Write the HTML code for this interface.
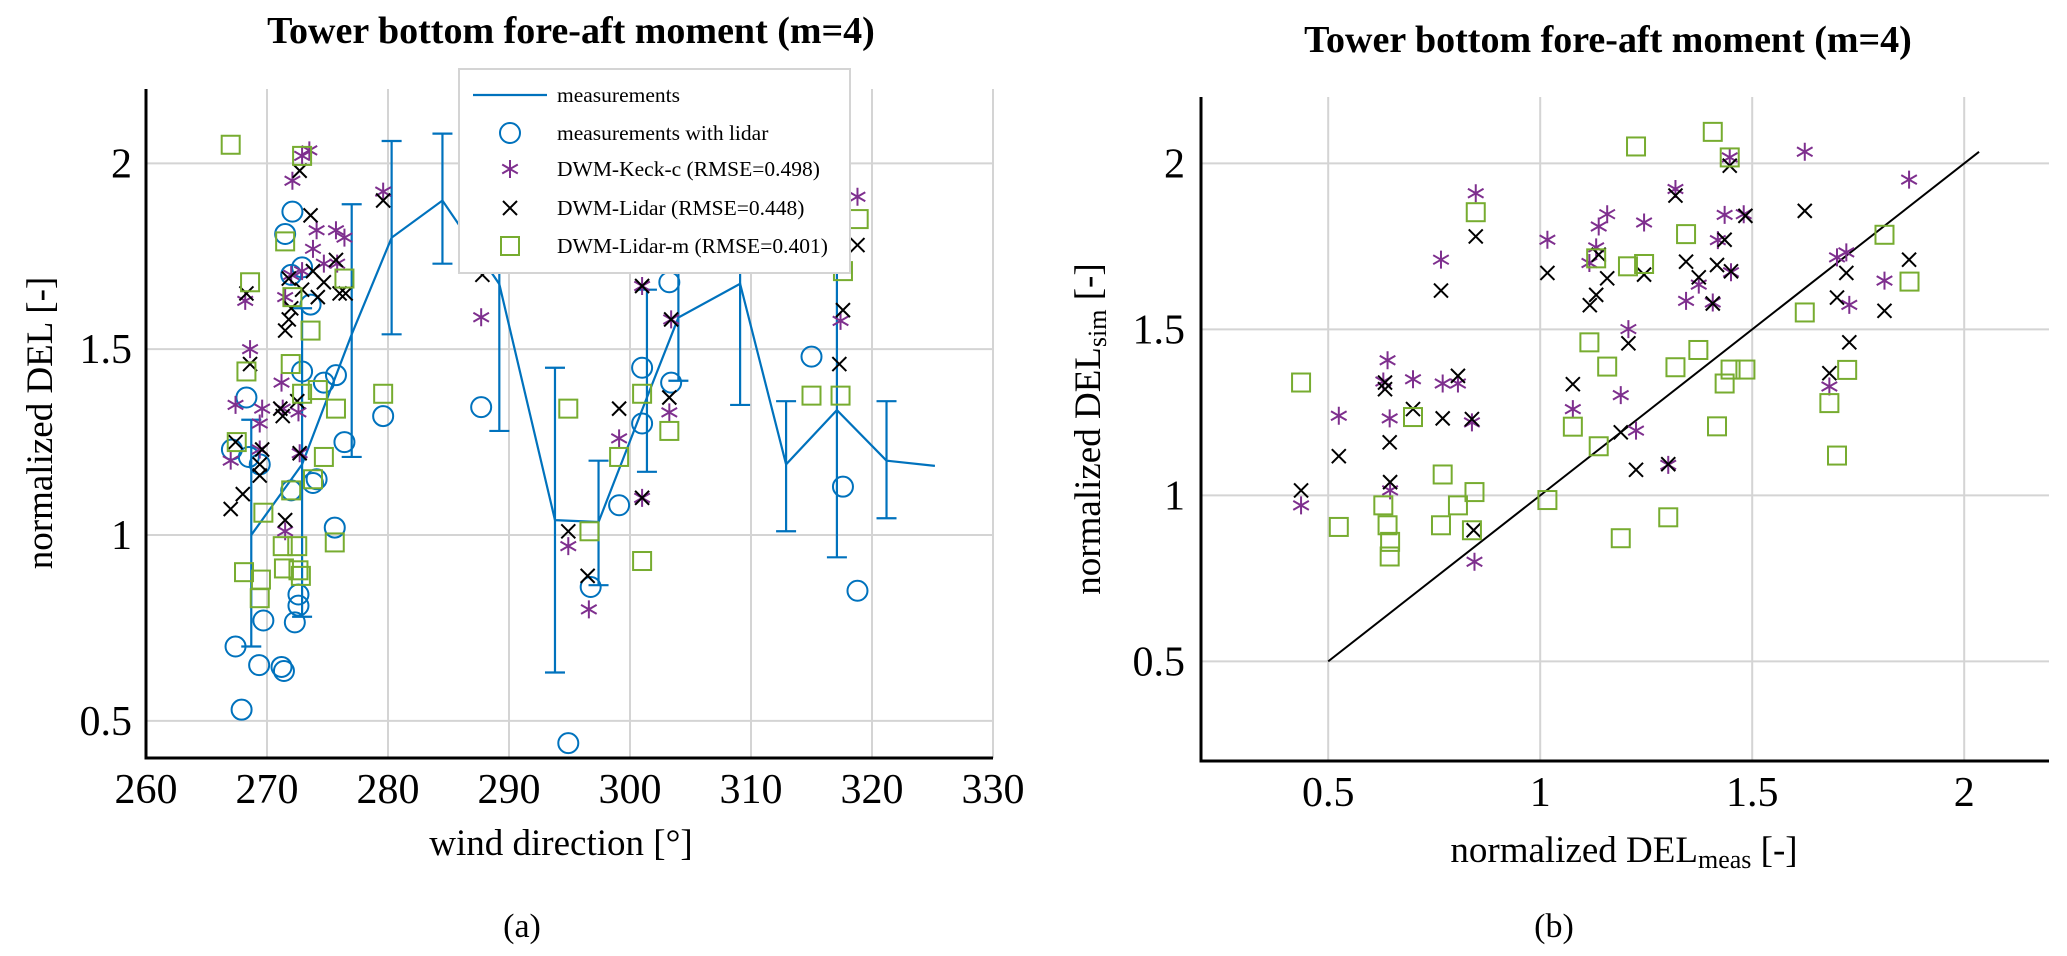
<!DOCTYPE html>
<html><head><meta charset="utf-8"><title>Tower bottom fore-aft moment</title>
<style>
html,body{margin:0;padding:0;background:#fff;}
svg{display:block;font-family:"Liberation Serif",serif;}
</style></head>
<body>
<svg id="fig" width="2067" height="956" viewBox="0 0 2067 956" xmlns="http://www.w3.org/2000/svg">
<rect x="0" y="0" width="2067" height="956" fill="#fff"/>
<g id="panelA"></g>
<g id="panelB"></g>
</svg>
<script>
// ---------- Panel (a) data ----------
const lineX = [268.7,272.9,277.0,280.3,284.5,289.2,293.8,297.4,301.4,304.0,309.1,312.9,317.1,321.2,325.2];
const lineY = [1.00,1.19,1.54,1.80,1.90,1.675,1.04,1.035,1.37,1.585,1.676,1.19,1.336,1.20,1.186];
const errLo = [0.70,0.78,1.21,1.54,1.73,1.28,0.63,0.865,1.17,1.415,1.35,1.01,0.94,1.045,null];
const errHi = [1.31,1.61,1.89,2.06,2.08,2.05,1.45,1.20,1.66,1.75,2.0,1.36,1.72,1.36,null];

const lidarX = [272.1,271.5,272.9,272.0,273.6,272.9,274.7,275.7,268.3,279.6,267.1,268.5,269.4,276.4,274.1,273.8,272.0,275.6,267.4,267.9,269.35,271.2,271.4,269.7,272.3,272.6,272.6,294.9,287.7,301.0,303.25,303.4,301.0,299.1,296.75,315.0,317.6,318.8];
const lidarY = [1.87,1.81,1.72,1.70,1.62,1.44,1.41,1.43,1.37,1.32,1.23,1.21,1.19,1.25,1.15,1.14,1.12,1.02,0.70,0.53,0.65,0.645,0.634,0.77,0.765,0.84,0.81,0.44,1.344,1.45,1.68,1.41,1.30,1.08,0.86,1.48,1.13,0.85];

const keckX = [273.5,272.9,272.1,279.6,274.1,275.7,276.4,273.8,274.7,275.8,272.9,272.0,271.5,268.2,268.6,271.2,267.4,269.6,269.4,271.3,272.6,267.0,269.4,272.7,271.5,287.7,301.0,303.4,303.25,299.1,301.0,294.9,296.6,318.8,317.4];
const keckY = [2.035,2.02,1.953,1.924,1.82,1.82,1.80,1.77,1.73,1.73,1.71,1.70,1.64,1.63,1.50,1.41,1.35,1.34,1.30,1.34,1.33,1.20,1.23,1.22,1.01,1.586,1.67,1.58,1.33,1.26,1.10,0.97,0.80,1.91,1.576];

const dwmX = [272.7,273.6,279.6,275.7,271.8,273.8,274.7,272.9,274.2,276.0,276.5,268.3,272.0,271.8,271.5,268.6,271.1,271.3,272.5,267.4,269.6,269.4,269.4,272.7,268.0,267.0,271.5,287.8,301.0,303.4,303.25,299.1,301.0,294.9,296.5,318.8,317.6,317.3];
const dwmY = [1.98,1.86,1.90,1.74,1.69,1.71,1.68,1.66,1.64,1.65,1.65,1.65,1.61,1.58,1.55,1.46,1.34,1.32,1.36,1.25,1.23,1.19,1.16,1.22,1.11,1.07,1.04,1.70,1.67,1.58,1.37,1.34,1.10,1.01,0.89,1.78,1.605,1.46];

const dwmmX = [267.0,272.9,271.5,268.6,276.4,272.1,273.6,268.3,271.96,272.9,274.2,279.6,275.7,267.5,274.7,273.8,272.0,269.7,275.6,271.3,272.5,268.1,269.5,271.4,272.6,272.8,269.4,294.9,296.65,299.1,301.0,303.25,301.0,318.9,317.6,315.0,317.4];
const dwmmY = [2.05,2.02,1.79,1.68,1.69,1.64,1.55,1.44,1.46,1.38,1.39,1.38,1.34,1.25,1.21,1.15,1.12,1.06,0.98,0.97,0.97,0.90,0.88,0.91,0.905,0.89,0.83,1.34,1.01,1.21,1.38,1.28,0.93,1.85,1.71,1.375,1.375];

const aXTicks = [260,270,280,290,300,310,320,330];
const aXTickLabels = ["260","270","280","290","300","310","320","330"];
const aYTicks = [0.5,1,1.5,2];
const aYTickLabels = ["0.5","1","1.5","2"];

// ---------- Panel (b) data ----------
const bKeckMeas = [0.436,0.525,0.64,0.63,0.645,0.646,0.70,0.766,0.77,0.806,0.839,0.845,0.848,1.017,1.077,1.158,1.138,1.132,1.116,1.245,1.319,1.447,1.435,1.48,1.419,1.374,1.45,1.344,1.407,1.208,1.19,1.226,1.302,1.624,1.87,1.70,1.722,1.812,1.729,1.682];
const bKeckSim  = [0.97,1.24,1.407,1.343,1.232,1.015,1.35,1.71,1.337,1.337,1.22,0.80,1.91,1.77,1.26,1.847,1.81,1.747,1.70,1.822,1.923,2.018,1.845,1.847,1.769,1.635,1.672,1.586,1.581,1.501,1.302,1.195,1.092,2.035,1.951,1.717,1.732,1.647,1.574,1.328];

const bLidarMeas = [0.436,0.525,0.634,0.634,0.645,0.646,0.70,0.766,0.77,0.806,0.839,0.843,0.848,1.017,1.077,1.138,1.158,1.132,1.117,1.245,1.319,1.447,1.484,1.344,1.374,1.417,1.435,1.45,1.407,1.208,1.19,1.226,1.302,1.624,1.722,1.70,1.812,1.87,1.729,1.682];
const bLidarSim  = [1.015,1.118,1.34,1.32,1.16,1.04,1.26,1.617,1.232,1.36,1.23,0.895,1.78,1.67,1.335,1.725,1.654,1.604,1.573,1.665,1.903,1.993,1.842,1.704,1.657,1.694,1.77,1.675,1.578,1.458,1.19,1.077,1.094,1.857,1.67,1.596,1.556,1.71,1.461,1.368];

const bLidarMMeas = [0.436,0.525,0.63,0.64,0.646,0.645,0.70,0.77,0.766,0.806,0.845,0.839,0.848,1.017,1.077,1.226,1.407,1.447,1.344,1.132,1.207,1.245,1.116,1.158,1.319,1.373,1.449,1.484,1.435,1.138,1.417,1.302,1.19,1.624,1.812,1.871,1.724,1.682,1.70];
const bLidarMSim  = [1.34,0.905,0.97,0.91,0.86,0.816,1.236,1.063,0.91,0.97,1.01,0.895,1.853,0.986,1.207,2.051,2.095,2.018,1.787,1.714,1.69,1.697,1.461,1.388,1.386,1.438,1.379,1.379,1.337,1.148,1.208,0.934,0.871,1.551,1.785,1.644,1.378,1.278,1.12];

const bRefLine = [0.5,2.035];
const bXTicks = [0.5,1,1.5,2];
const bXTickLabels = ["0.5","1","1.5","2"];
const bYTicks = [0.5,1,1.5,2];
const bYTickLabels = ["0.5","1","1.5","2"];

// ---------- helpers ----------
const NS = "http://www.w3.org/2000/svg";
const BLUE="#0072BD", PURPLE="#7E2F8E", GREEN="#77AC30", GRID="#d4d4d4";
function mk(tag, attrs, parent){
  const e=document.createElementNS(NS,tag);
  for(const k in attrs) e.setAttribute(k,attrs[k]);
  parent.appendChild(e); return e;
}
// Axis scales
const A = {x0:260,x1:330,px0:146,px1:993, y0:0.4,y1:2.2,py0:758,py1:89};
const B = {x0:0.2,x1:2.2,px0:1201,px1:2049, y0:0.2,y1:2.2,py0:761,py1:97};
function sx(ax,v){return ax.px0+(v-ax.x0)/(ax.x1-ax.x0)*(ax.px1-ax.px0);}
function sy(ax,v){return ax.py0+(v-ax.y0)/(ax.y1-ax.y0)*(ax.py1-ax.py0);}

function marker(g,type,cx,cy){
  let el;
  if(type==='circle'){
    el=mk('circle',{cx:cx,cy:cy,r:10,fill:'none',stroke:BLUE,'stroke-width':2},g);
  } else if(type==='square'){
    el=mk('rect',{x:cx-9,y:cy-9,width:18,height:18,fill:'none',stroke:GREEN,'stroke-width':2},g);
  } else if(type==='x'){
    el=mk('path',{d:`M${cx-7} ${cy-7}L${cx+7} ${cy+7}M${cx-7} ${cy+7}L${cx+7} ${cy-7}`,stroke:'#000','stroke-width':2,fill:'none'},g);
  } else {
    const a=9, b=7.8, c=4.5;
    el=mk('path',{d:`M${cx} ${cy-a}L${cx} ${cy+a}M${cx-b} ${cy-c}L${cx+b} ${cy+c}M${cx-b} ${cy+c}L${cx+b} ${cy-c}`,stroke:PURPLE,'stroke-width':2,fill:'none'},g);
  }
  return el;
}

function gridAndAxes(g,ax,xt,yt,xl,yl,labelRightY){
  const grid=mk('g',{},g);
  
  
  xt.forEach(v=>{const x=sx(ax,v); mk('line',{x1:x,x2:x,y1:ax.py1,y2:ax.py0,stroke:GRID,'stroke-width':2},grid);});
  yt.forEach(v=>{const y=sy(ax,v); mk('line',{x1:ax.px0,x2:ax.px1,y1:y,y2:y,stroke:GRID,'stroke-width':2},grid);});
  const axes=mk('path',{d:`M${ax.px0} ${ax.py1}L${ax.px0} ${ax.py0}L${ax.px1} ${ax.py0}`,stroke:'#000','stroke-width':3,fill:'none'},g);
  
  
  const xtg=mk('g',{},g);
  
  
  xt.forEach((v,i)=>{const t=mk('text',{x:sx(ax,v),y:ax.py0+45,'text-anchor':'middle','font-size':42},xtg); t.textContent=xl[i];});
  const ytg=mk('g',{},g);
  
  
  yt.forEach((v,i)=>{const t=mk('text',{x:labelRightY,y:sy(ax,v)+14,'text-anchor':'end','font-size':42},ytg); t.textContent=yl[i];});
}

// ---------- Panel (a) ----------
(function(){
  const g=document.getElementById('panelA');
  gridAndAxes(g,A,aXTicks,aYTicks,aXTickLabels,aYTickLabels,132);
  // error bars + line
  const eg=mk('g',{},g);
  
  
  lineX.forEach((v,i)=>{
    if(errLo[i]===null) return;
    const x=sx(A,v), yl=sy(A,errLo[i]), yh=sy(A,errHi[i]);
    const p=mk('path',{d:`M${x} ${yl}L${x} ${yh}M${x-10} ${yl}L${x+10} ${yl}M${x-10} ${yh}L${x+10} ${yh}`,stroke:BLUE,'stroke-width':2.2,fill:'none'},eg);
    
    
  });
  const pts=lineX.map((v,i)=>sx(A,v)+','+sy(A,lineY[i])).join(' ');
  const pl=mk('polyline',{points:pts,fill:'none',stroke:BLUE,'stroke-width':2.2},g);
  
  

  function series(xs,ys,type,name){
    const sg=mk('g',{},g);
    
    
    xs.forEach((v,i)=>{
      const m=marker(sg,type,sx(A,v),sy(A,ys[i]));
      
      
    });
  }
  series(lidarX,lidarY,'circle','lidar-measurements');
  series(keckX,keckY,'star','dwm-keck-c');
  series(dwmX,dwmY,'x','dwm-lidar');
  series(dwmmX,dwmmY,'square','dwm-lidar-m');

  // legend
  const lg=mk('g',{},g);
  
  
  mk('rect',{x:459,y:69,width:391,height:204,fill:'#fff',stroke:GRID,'stroke-width':2},lg);
  const ly=[95,133,169,208,246];
  const labels=["measurements","measurements with lidar","DWM-Keck-c (RMSE=0.498)","DWM-Lidar (RMSE=0.448)","DWM-Lidar-m (RMSE=0.401)"];
  const types=['line','circle','star','x','square'];
  labels.forEach((s,i)=>{
    const e=mk('g',{},lg);
    
    
    if(types[i]==='line') mk('line',{x1:473,x2:547,y1:ly[i],y2:ly[i],stroke:BLUE,'stroke-width':2.2},e);
    else marker(e,types[i],510,ly[i]);
    const t=mk('text',{x:557,y:ly[i]+7,'font-size':21.5},e); t.textContent=s;
  });

  const title=mk('text',{x:571,y:43,'text-anchor':'middle','font-size':38,'font-weight':'bold'},g);
  
  
  title.textContent="Tower bottom fore-aft moment (m=4)";
  const xlab=mk('text',{x:561,y:855,'text-anchor':'middle','font-size':37},g);
  
  
  xlab.textContent="wind direction [°]";
  const ylab=mk('text',{x:0,y:0,'text-anchor':'middle','font-size':37,transform:'translate(52,423) rotate(-90)'},g);
  
  
  ylab.textContent="normalized DEL [-]";
  const cap=mk('text',{x:522,y:937,'text-anchor':'middle','font-size':34},g);
  
  
  cap.textContent="(a)";
})();

// ---------- Panel (b) ----------
(function(){
  const g=document.getElementById('panelB');
  gridAndAxes(g,B,bXTicks,bYTicks,bXTickLabels,bYTickLabels,1185);
  const rl=mk('line',{x1:sx(B,bRefLine[0]),y1:sy(B,bRefLine[0]),x2:sx(B,bRefLine[1]),y2:sy(B,bRefLine[1]),stroke:'#000','stroke-width':2},g);
  
  
  function series(xs,ys,type,name){
    const sg=mk('g',{},g);
    
    
    xs.forEach((v,i)=>{
      const m=marker(sg,type,sx(B,v),sy(B,ys[i]));
      
      
    });
  }
  series(bKeckMeas,bKeckSim,'star','dwm-keck-c-scatter');
  series(bLidarMeas,bLidarSim,'x','dwm-lidar-scatter');
  series(bLidarMMeas,bLidarMSim,'square','dwm-lidar-m-scatter');

  const title=mk('text',{x:1608,y:52,'text-anchor':'middle','font-size':38,'font-weight':'bold'},g);
  
  
  title.textContent="Tower bottom fore-aft moment (m=4)";
  const xlab=mk('text',{x:1624,y:862,'text-anchor':'middle','font-size':37},g);
  
  
  xlab.innerHTML='normalized DEL<tspan font-size="26" dy="6">meas</tspan><tspan dy="-6"> [-]</tspan>';
  const ylab=mk('text',{x:0,y:0,'text-anchor':'middle','font-size':37,transform:'translate(1100,429) rotate(-90)'},g);
  
  
  ylab.innerHTML='normalized DEL<tspan font-size="26" dy="6">sim</tspan><tspan dy="-6"> [-]</tspan>';
  const cap=mk('text',{x:1554,y:937,'text-anchor':'middle','font-size':34},g);
  
  
  cap.textContent="(b)";
})();
</script>
</body></html>
